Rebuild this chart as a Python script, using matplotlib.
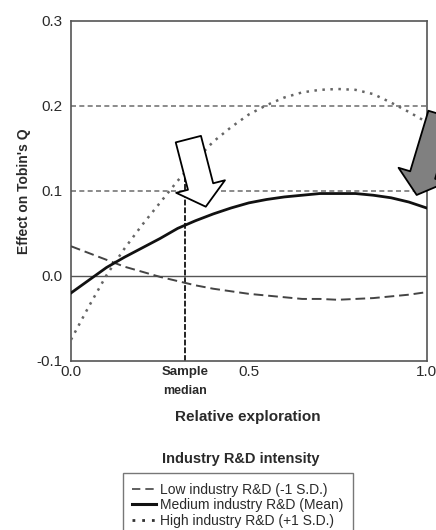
import matplotlib
matplotlib.use('Agg')
import matplotlib.pyplot as plt
from matplotlib.lines import Line2D

plt.rcParams['font.family'] = ['Liberation Sans', 'DejaVu Sans']

# Значения (шаг 0.05 по оси X)
exploration = [0.00, 0.05, 0.10, 0.15, 0.20, 0.25, 0.30, 0.35, 0.40, 0.45, 0.50,
               0.55, 0.60, 0.65, 0.70, 0.75, 0.80, 0.85, 0.90, 0.95, 1.00]
low_rd = [0.035, 0.027, 0.019, 0.011, 0.005, -0.001, -0.006, -0.011, -0.015, -0.018, -0.021,
          -0.023, -0.025, -0.027, -0.027, -0.028, -0.027, -0.026, -0.024, -0.022, -0.019]
medium_rd = [-0.020, -0.005, 0.010, 0.022, 0.033, 0.044, 0.056, 0.065, 0.073, 0.080, 0.086,
             0.090, 0.093, 0.095, 0.097, 0.097, 0.097, 0.095, 0.092, 0.087, 0.080]
high_rd = [-0.075, -0.036, 0.001, 0.032, 0.060, 0.086, 0.112, 0.136, 0.158, 0.175, 0.190,
           0.201, 0.210, 0.216, 0.219, 0.220, 0.219, 0.214, 0.204, 0.193, 0.181]

series_labels = ['Low industry R&D (-1 S.D.)', 'Medium industry R&D (Mean)',
                 'High industry R&D (+1 S.D.)']
sample_median = 0.32
y_ticks = [-0.1, 0.0, 0.1, 0.2, 0.3]
x_ticks = [0.0, 0.5, 1.0]

text_col = '#2a2a2a'

fig = plt.figure(figsize=(4.36, 5.30), dpi=100)
ax = fig.add_axes([0.1628, 0.3189, 0.8157, 0.6415])

# опорные линии
ax.axhline(0.0, color='#555555', lw=1.0, zorder=1)
for yv in (0.1, 0.2):
    ax.axhline(yv, color='#777777', lw=1.2, ls=(0, (3, 2)), zorder=1)
ax.plot([sample_median, sample_median], [-0.1, 0.125], color='#222222', lw=1.4,
        ls=(0, (3, 1)), zorder=2)

# кривые
ax.plot(exploration, low_rd, color='#444444', lw=1.4, ls=(0, (5, 2.5)), zorder=3)
ax.plot(exploration, medium_rd, color='#111111', lw=2.0, zorder=4)
ax.plot(exploration, high_rd, color='#666666', lw=1.8, ls=(0, (1, 2.2)), zorder=3)

ax.set_xlim(0, 1)
ax.set_ylim(-0.1, 0.3)
ax.set_yticks(y_ticks)
ax.set_yticklabels([f'{v:.1f}' for v in y_ticks])
ax.set_xticks(x_ticks)
ax.set_xticklabels([f'{v:.1f}' for v in x_ticks])
ax.tick_params(length=0, labelsize=11, colors=text_col, pad=6)
ax.tick_params(axis='x', pad=3)
for sp in ax.spines.values():
    sp.set_color('#555555')
    sp.set_linewidth(1.2)

ax.set_ylabel("Effect on Tobin's Q", fontsize=10, fontweight='bold', color=text_col, labelpad=4)

# подпись медианы
ax.text(sample_median, -0.106, 'Sample', ha='center', va='top', fontsize=9.5,
        fontweight='bold', color=text_col)
ax.text(sample_median, -0.128, 'median', ha='center', va='top', fontsize=9,
        fontweight='bold', color=text_col)

fig.text(248 / 436, 1 - 417 / 530, 'Relative exploration', ha='center', va='center',
         fontsize=11, fontweight='bold', color=text_col)

# стрелки
arrow_style = 'simple,head_width=2.9,head_length=1.2,tail_width=1.5'
ax.annotate('', xy=(0.379, 0.0815), xytext=(0.330, 0.161),
            arrowprops=dict(arrowstyle=arrow_style, fc='white', ec='black', lw=1.3,
                            mutation_scale=12.5, shrinkA=0, shrinkB=0),
            zorder=6)
ax.annotate('', xy=(0.972, 0.0953), xytext=(1.040, 0.190),
            arrowprops=dict(arrowstyle=arrow_style, fc='#808080', ec='black', lw=1.3,
                            mutation_scale=12.5, shrinkA=0, shrinkB=0),
            annotation_clip=False, zorder=6)

# легенда
fig.text(241 / 436, 1 - 459 / 530, 'Industry R&D intensity', ha='center', va='center',
         fontsize=10.5, fontweight='bold', color=text_col)
handles = [
    Line2D([], [], color='#444444', lw=1.2, ls=(0, (5, 3))),
    Line2D([], [], color='#111111', lw=2.2),
    Line2D([], [], color='#333333', lw=2.0, ls=(0, (1, 2.5))),
]
leg = fig.legend(handles, series_labels, loc='upper center',
                 bbox_to_anchor=(238 / 436, 1 - 473 / 530), frameon=True, fancybox=False,
                 edgecolor='#555555', fontsize=10, handlelength=1.7, handletextpad=0.3,
                 labelspacing=0.1, borderpad=0.7, borderaxespad=0)
leg.get_frame().set_linewidth(1.0)
for t in leg.get_texts():
    t.set_color(text_col)

fig.savefig('out.png', dpi=100)
